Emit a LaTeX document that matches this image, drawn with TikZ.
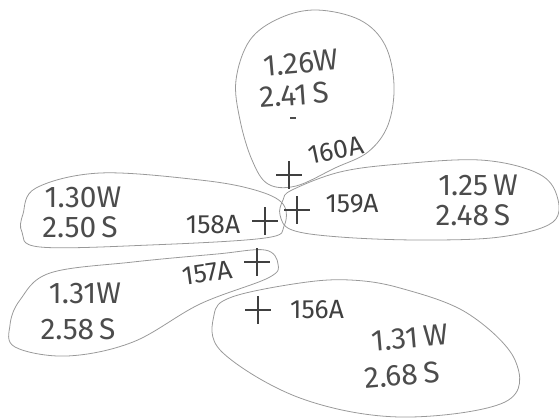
\documentclass[tikz,border=0pt]{standalone}
\usepackage{fontspec}
\setsansfont{Fira Sans}
\usepackage{tikz}
\usetikzlibrary{calc}

\tikzset{
  outline/.style={draw=black!40, line width=0.45pt},
  val/.style={text=black!70, font=\sffamily\fontsize{17}{17}\selectfont, inner sep=1pt},
  tag/.style={text=black!75, font=\sffamily\fontsize{15}{15}\selectfont, inner sep=1pt},
  tickplus/.pic={\draw[black!75, line width=0.7pt] (-13,0) -- (13,0) (0,-14) -- (0,14);}
}

\begin{document}
\begin{tikzpicture}[x=0.02cm, y=-0.02cm]
            \useasboundingbox (0,0) rectangle (559,420);
            
            % Drawing outline of 160A
            \draw [outline] plot [smooth cycle, tension=0.6] coordinates {(317,10) (360,20) (385,45) (394,85) (388,125) (368,152) (335,168) (296,186) (268,184) (252,160) (240,120) (236,80) (250,40) (280,18)};%
            
            % Drawing outline of 159A
            \draw [outline] plot [smooth cycle, tension=0.6] coordinates {(292,190) (340,172) (400,164) (480,160) (535,172) (556,193) (553,222) (500,237) (420,240) (340,237) (292,230) (280,215) (283,200)};%
            
            % Drawing outline of 158A
            \draw [outline] plot [smooth cycle, tension=0.6] coordinates {(23,214) (36,188) (100,173) (200,180) (255,190) (283,204) (284,226) (265,238) (150,245) (40,247) (22,232)};%
            
            % Drawing outline of 157A
            \draw [outline] plot [smooth cycle, tension=0.6] coordinates {(20,300) (50,273) (133,262) (217,254) (265,250) (278,264) (268,278) (200,304) (133,342) (67,356) (15,347) (10,325)};%
            
            % Drawing outline of 156A
            \draw [outline] plot [smooth cycle, tension=0.6] coordinates {(214,315) (232,297) (300,283) (350,280) (400,288) (467,313) (515,360) (505,402) (400,417) (300,398) (222,352)};%
            
            % Marking point 160A by cross
            \pic at (289,175) {tickplus};%
            \draw (336,150) node [tag, rotate=12] (tag160) {160A};%
            \draw (301,63) node [val, rotate=5] (w160) {1.26W};%
            \draw (294,95) node [val, rotate=4] (s160) {2.41\,S};%
            \draw [black!70, line width=0.7pt] (290,118) -- (296,118);%
            
            % Marking point 159A by cross
            \pic at (297,210) {tickplus};%
            \draw (352,204) node [tag] (tag159) {159A};%
            \draw (478,185) node [val] (w159) {1.25\,W};%
            \draw (473,215) node [val] (s159) {2.48\,S};%
            
            % Marking point 158A by cross
            \pic at (265,221) {tickplus};%
            \draw (213,225) node [tag] (tag158) {158A};%
            \draw (83,197) node [val] (w158) {1.30W};%
            \draw (80,227) node [val] (s158) {2.50\,S};%
            
            % Marking point 157A by cross
            \pic at (257,262) {tickplus};%
            \draw (207,273) node [tag, rotate=8] (tag157) {157A};%
            \draw (85,293) node [val] (w157) {1.31W};%
            \draw (78,329) node [val] (s157) {2.58\,S};%
            
            % Marking point 156A by cross
            \pic at (258,310) {tickplus};%
            \draw (317,310) node [tag] (tag156) {156A};%
            \draw (410,338) node [val, rotate=5] (w156) {1.31\,W};%
            \draw (402,375) node [val, rotate=5] (s156) {2.68\,S};%
\end{tikzpicture}
\end{document}
